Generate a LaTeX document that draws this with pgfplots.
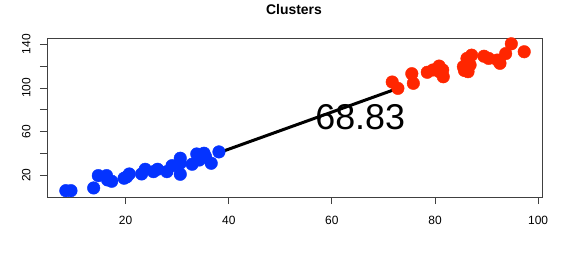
\documentclass[border=0pt]{standalone}
\usepackage{pgfplots}
\pgfplotsset{compat=1.18}
\usepackage{fontspec}
\setmainfont{Liberation Sans}
\definecolor{rblue}{RGB}{4,51,255}
\definecolor{rred}{RGB}{255,38,0}
\begin{document}
\begin{tikzpicture}
\path[use as bounding box] (0,0) rectangle (577bp,254bp);
\node[font=\fontsize{14}{14}\selectfont\bfseries] at (294bp,244.5bp) {Clusters};
\begin{axis}[
  at={(47bp,57bp)}, anchor=south west,
  scale only axis, width=495bp, height=159bp,
  xmin=4.75, xmax=100.75, ymin=0.1, ymax=145.7,
  axis line style={black!75, line width=0.8bp},
  tick style={black!75, line width=0.8bp},
  tick align=outside, major tick length=7bp,
  xtick={20,40,60,80,100},
  ytick={20,40,60,80,100,120,140},
  yticklabels={20,,60,,100,,140},
  xtick pos=bottom, ytick pos=left,
  /pgf/number format/assume math mode=true,
  tick label style={font=\fontsize{12}{12}\selectfont},
  yticklabel style={rotate=90, anchor=south},
  xticklabel shift=9bp,
  yticklabel shift=6bp,
  clip=false,
]
\addplot[only marks, mark=*, mark size=6.3bp, mark options={draw=rblue, fill=rblue}] coordinates {
(8.4,5.9) (9.4,5.9) (13.8,8.4) (14.7,19.7) (16.3,19.7) (16.5,15.7) (17.3,14.5)
(19.7,17.3) (20.2,18.5) (20.7,21.2) (23.1,21.2) (23.8,25.5) (25.4,23.3) (26.2,25.5)
(28.0,23.3) (29.0,28.8) (30.6,35.6) (30.6,31.0) (30.6,20.9) (32.9,30.1) (33.8,39.5)
(34.3,34.0) (35.2,40.2) (35.5,37.0) (36.6,31.0) (38.1,41.4)
};
\addplot[only marks, mark=*, mark size=6.3bp, mark options={draw=rred, fill=rred}] coordinates {
(71.7,105.4) (72.8,99.6) (75.5,113.0) (75.8,104.2) (78.5,114.3) (79.6,116.4) (80.8,120.0)
(81.5,116.4) (81.6,110.2) (80.8,115.0) (85.5,119.4) (86.2,127.0) (87.1,130.0) (85.7,116.0)
(86.4,114.8) (86.8,121.0) (89.5,129.0) (90.4,127.0) (92.1,125.5) (92.6,122.5) (93.7,131.4)
(94.8,140.4) (97.3,133.1)
};
\addplot[black, line width=3bp, no marks] coordinates {(38.0,40.5) (72.8,99.6)};
\node[font=\fontsize{36}{36}\selectfont, inner sep=0pt] at (axis cs:65.5,73.4) {68.83};
\end{axis}
\end{tikzpicture}
\end{document}
